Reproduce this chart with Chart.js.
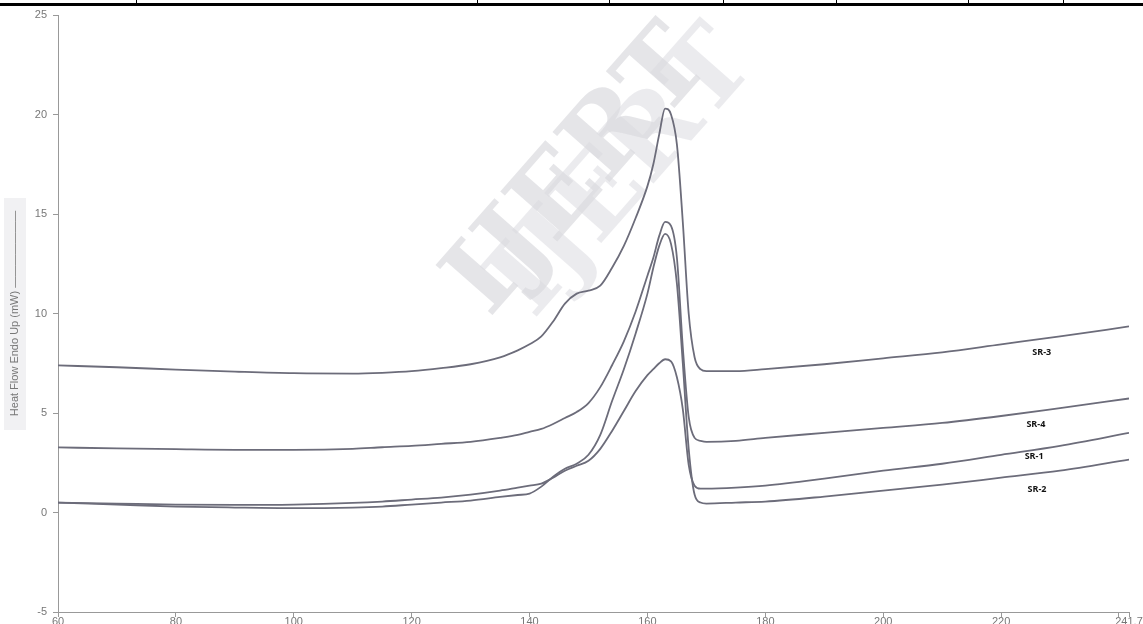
<!DOCTYPE html>
<html>
<head>
<meta charset="utf-8">
<script src="https://cdn.jsdelivr.net/npm/chart.js@4.4.1/dist/chart.umd.min.js"></script>
<style>
  html, body { margin: 0; padding: 0; background: #fff; overflow: hidden; }
  #wrap { position: relative; width: 1143px; height: 624px; overflow: hidden; }
  #titleShade { position: absolute; left: 4px; top: 198px; width: 22px; height: 232px; background: #f1f1f3; }
  #topRule { position: absolute; left: 0; top: 3px; width: 1143px; height: 3px; background: #000; }
  .sep { position: absolute; top: 0; width: 1px; height: 5px; background: #000; }
  canvas { position: absolute; left: 0; top: 0; }
</style>
</head>
<body>
<div id="wrap">
  <div id="titleShade"></div>
  <canvas id="dsc" width="1143" height="640"></canvas>
  <div id="topRule"></div>
</div>
<script>
// Temperature (°C) shared by all four DSC traces
const temps = [60, 70, 80, 90, 100, 110, 115, 120, 125, 130, 135, 138, 140, 142, 144, 146, 148, 150, 152, 154,
  156, 158, 160, 161, 162, 163, 164, 165, 166, 167, 168, 169, 170, 175, 180, 190, 200, 210, 220, 230, 241.7];

// Heat flow (mW)
const sr3 = [7.39, 7.3, 7.18, 7.08, 7.0, 6.98, 7.02, 7.1, 7.25, 7.45, 7.8, 8.15, 8.45, 8.85, 9.6, 10.5, 11.0, 11.15, 11.4, 12.3,
  13.4, 14.8, 16.4, 17.5, 19.0, 20.3, 20.0, 18.5, 14.6, 10.0, 7.8, 7.2, 7.1, 7.1, 7.2, 7.45, 7.75, 8.05, 8.45, 8.85, 9.35];
const sr4 = [3.27, 3.22, 3.18, 3.15, 3.15, 3.2, 3.28, 3.35, 3.45, 3.55, 3.75, 3.9, 4.05, 4.2, 4.45, 4.75, 5.05, 5.5, 6.3, 7.4,
  8.6, 10.1, 11.9, 12.8, 13.9, 14.6, 14.4, 12.8, 8.3, 4.8, 3.75, 3.6, 3.55, 3.6, 3.75, 4.0, 4.25, 4.5, 4.85, 5.25, 5.73];
const sr1 = [0.5, 0.45, 0.4, 0.38, 0.4, 0.48, 0.55, 0.65, 0.75, 0.9, 1.1, 1.25, 1.35, 1.45, 1.75, 2.1, 2.35, 2.6, 3.2, 4.1,
  5.1, 6.1, 6.9, 7.2, 7.5, 7.7, 7.6, 6.8, 5.2, 2.4, 1.35, 1.2, 1.2, 1.25, 1.35, 1.7, 2.1, 2.45, 2.9, 3.35, 4.0];
const sr2 = [0.5, 0.4, 0.3, 0.25, 0.22, 0.25, 0.3, 0.4, 0.5, 0.6, 0.78, 0.88, 0.95, 1.3, 1.8, 2.2, 2.45, 2.9, 3.9, 5.6,
  7.2, 9.0, 11.0, 12.3, 13.4, 14.0, 13.5, 11.5, 7.5, 3.2, 0.9, 0.5, 0.45, 0.5, 0.55, 0.8, 1.1, 1.4, 1.75, 2.1, 2.66];

const xTicks = [60, 80, 100, 120, 140, 160, 180, 200, 220, 240, 241.7];
const xTickLabels = ['60', '80', '100', '120', '140', '160', '180', '200', '220', '', '241.7'];

// in-plot curve labels (temperature, heat flow)
const tagNames = ['SR-3', 'SR-4', 'SR-1', 'SR-2'];
const tagT = [226.9, 225.9, 225.6, 226.1];
const tagV = [8.04, 4.42, 2.8, 1.18];

// page separators above the figure (leftover table rule in the scan)
[136, 477, 609, 723, 836, 968, 1063].forEach(x => {
  const d = document.createElement('div');
  d.className = 'sep';
  d.style.left = x + 'px';
  document.getElementById('wrap').appendChild(d);
});

const lineColor = '#6c6c7a';
const toPts = vals => temps.map((t, i) => ({ x: t, y: vals[i] }));

const watermark = {
  id: 'watermark',
  beforeDatasetsDraw(chart) {
    const ctx = chart.ctx;
    ctx.save();
    ctx.font = 'bold 104px "DejaVu Serif", serif';
    ctx.textAlign = 'center';
    ctx.textBaseline = 'middle';
    ctx.translate(625, 175);
    ctx.rotate(-0.85);
    ctx.fillStyle = 'rgba(232,232,235,0.85)';
    ctx.fillText('IJERT', 0, 0);
    ctx.translate(-28, -34);
    ctx.fillStyle = 'rgba(218,218,222,0.7)';
    ctx.fillText('IJERT', 0, 0);
    ctx.restore();
  }
};

const curveTags = {
  id: 'curveTags',
  afterDatasetsDraw(chart) {
    const ctx = chart.ctx;
    const xs = chart.scales.x, ys = chart.scales.y;
    ctx.save();
    ctx.font = 'bold 9px "Open Sans", sans-serif';
    ctx.fillStyle = '#111';
    ctx.textAlign = 'center';
    ctx.textBaseline = 'middle';
    tagNames.forEach((n, i) => {
      ctx.fillText(n, xs.getPixelForValue(tagT[i]), ys.getPixelForValue(tagV[i]));
    });
    ctx.restore();
  }
};

const series = [sr1, sr2, sr3, sr4];
new Chart(document.getElementById('dsc').getContext('2d'), {
  type: 'line',
  data: {
    datasets: series.map((s, i) => ({
      label: ['SR-1', 'SR-2', 'SR-3', 'SR-4'][i],
      data: toPts(s),
      borderColor: lineColor,
      borderWidth: 1.8,
      pointRadius: 0,
      fill: false,
      cubicInterpolationMode: 'monotone'
    }))
  },
  options: {
    responsive: false,
    animation: false,
    layout: { padding: { top: 15, right: 14, left: 0, bottom: 0 } },
    plugins: {
      legend: { display: false },
      tooltip: { enabled: false }
    },
    scales: {
      x: {
        type: 'linear',
        min: 60,
        max: 241.7,
        afterBuildTicks: axis => { axis.ticks = xTicks.map(v => ({ value: v })); },
        afterFit: axis => { axis.height = 28; },
        ticks: {
          autoSkip: false,
          maxRotation: 0,
          padding: -2,
          color: '#777',
          font: { family: '"Liberation Sans", Arial, sans-serif', size: 11 },
          callback: (val, idx) => xTickLabels[idx]
        },
        grid: { drawOnChartArea: false, drawTicks: true, tickLength: 5, color: '#999' },
        border: { color: '#999', width: 1 }
      },
      y: {
        min: -5,
        max: 25,
        afterFit: axis => { axis.width = 58; },
        ticks: {
          stepSize: 5,
          padding: 6,
          color: '#777',
          font: { family: '"Liberation Sans", Arial, sans-serif', size: 11 }
        },
        grid: { drawOnChartArea: false, drawTicks: true, tickLength: 5, color: '#999' },
        border: { color: '#999', width: 1 },
        title: {
          display: true,
          text: 'Heat Flow Endo Up (mW) ———————',
          color: '#777',
          padding: { top: 8, bottom: 0 },
          font: { family: '"Liberation Sans", Arial, sans-serif', size: 11 }
        }
      }
    }
  },
  plugins: [watermark, curveTags]
});
</script>
</body>
</html>
